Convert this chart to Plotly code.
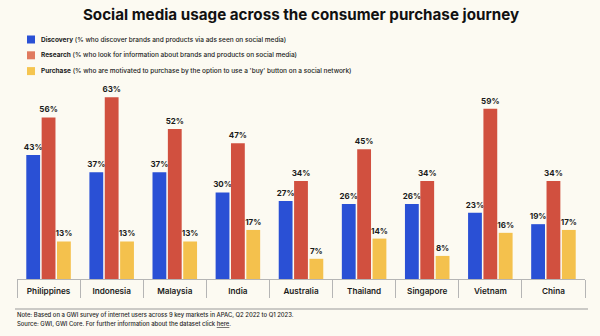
import plotly.graph_objects as go

countries = ["Philippines", "Indonesia", "Malaysia", "India", "Australia",
             "Thailand", "Singapore", "Vietnam", "China"]
discovery = [43, 37, 37, 30, 27, 26, 26, 23, 19]
research = [56, 63, 52, 47, 34, 45, 34, 59, 34]
purchase = [13, 13, 13, 17, 7, 14, 8, 16, 17]

series_names = ["Discovery", "Research", "Purchase"]
series_desc = [
    "(% who discover brands and products via ads seen on social media)",
    "(% who look for information about brands and products on social media)",
    "(% who are motivated to purchase by the option to use a 'buy' button on a social network)",
]
colors = ["#2A50D5", "#D1503F", "#F4C14D"]
key_colors = ["#2A50D5", "#E07A5F", "#F5C550"]
bg = "#FCFAF2"
font_family = "Inter, Liberation Sans, Arial, sans-serif"

W, H = 600, 336
ML, MR, MT, MB = 17, 15, 77, 57
plot_h = H - MT - MB


def px_x(px):
    return (px - ML) / (W - ML - MR)


def px_y(py):
    return (H - MB - py) / plot_h


fig = go.Figure()
for name, vals, col in zip(series_names, [discovery, research, purchase], colors):
    fig.add_trace(go.Bar(
        x=countries, y=vals, name=name,
        marker=dict(color=col, line=dict(width=0)),
        text=[f"{v}%" for v in vals],
        textposition="outside",
        constraintext="none",
        textfont=dict(size=8, color="#1a1a1a", family=font_family, weight="bold"),
        cliponaxis=False,
        showlegend=False,
    ))

shapes = []
annotations = []
# legend rows
for i, (name, desc, col) in enumerate(zip(series_names, series_desc, key_colors)):
    cy = 39.5 + 15.8 * i
    shapes.append(dict(type="rect", xref="paper", yref="paper",
                       x0=px_x(27), x1=px_x(35), y0=px_y(cy + 4), y1=px_y(cy - 4),
                       fillcolor=col, line=dict(width=0)))
    annotations.append(dict(xref="paper", yref="paper", x=px_x(39), y=px_y(cy),
                            xanchor="left", yanchor="middle", showarrow=False,
                            text=f"<b>{name}</b> {desc}",
                            font=dict(size=6.5, color="#1a1a1a", family=font_family,
                                      weight=500)))

# footer rule
shapes.append(dict(type="line", xref="paper", yref="paper",
                   x0=px_x(15), x1=px_x(588), y0=px_y(309), y1=px_y(309),
                   line=dict(color="#9a9a9a", width=1)))

annotations.append(dict(xref="paper", yref="paper", x=px_x(15), y=px_y(314.5),
                        xanchor="left", yanchor="middle", showarrow=False,
                        text="Note: Based on a GWI survey of internet users across 9 key markets in APAC, Q2 2022 to Q1 2023.",
                        font=dict(size=5.9, color="#1e1e1e", family=font_family, weight=500)))
annotations.append(dict(xref="paper", yref="paper", x=px_x(15), y=px_y(323),
                        xanchor="left", yanchor="middle", showarrow=False,
                        text="Source: GWI, GWI Core. For further information about the dataset click <u>here</u>.",
                        font=dict(size=5.9, color="#1e1e1e", family=font_family, weight=500)))

fig.update_layout(
    width=W, height=H,
    margin=dict(l=ML, r=MR, t=MT, b=MB),
    paper_bgcolor=bg, plot_bgcolor=bg,
    title=dict(text="<b>Social media usage across the consumer purchase journey</b>",
               x=0.5, xanchor="center", xref="paper", y=1 - 15 / H, yanchor="middle",
               font=dict(size=15.2, color="#111111", family=font_family)),
    barmode="group", bargap=0.27, bargroupgap=0.1,
    shapes=shapes, annotations=annotations,
    xaxis=dict(type="category", showline=True, linecolor="#b5b5b5", linewidth=1,
               ticks="outside", tickson="boundaries", ticklen=18, tickcolor="#b5b5b5",
               tickwidth=1, ticklabelstandoff=4, showgrid=False, zeroline=False,
               tickfont=dict(size=8.2, color="#1a1a1a", family=font_family, weight=600)),
    yaxis=dict(range=[0, 70], visible=False, showgrid=False, zeroline=False),
)

fig.write_html("out.html")
